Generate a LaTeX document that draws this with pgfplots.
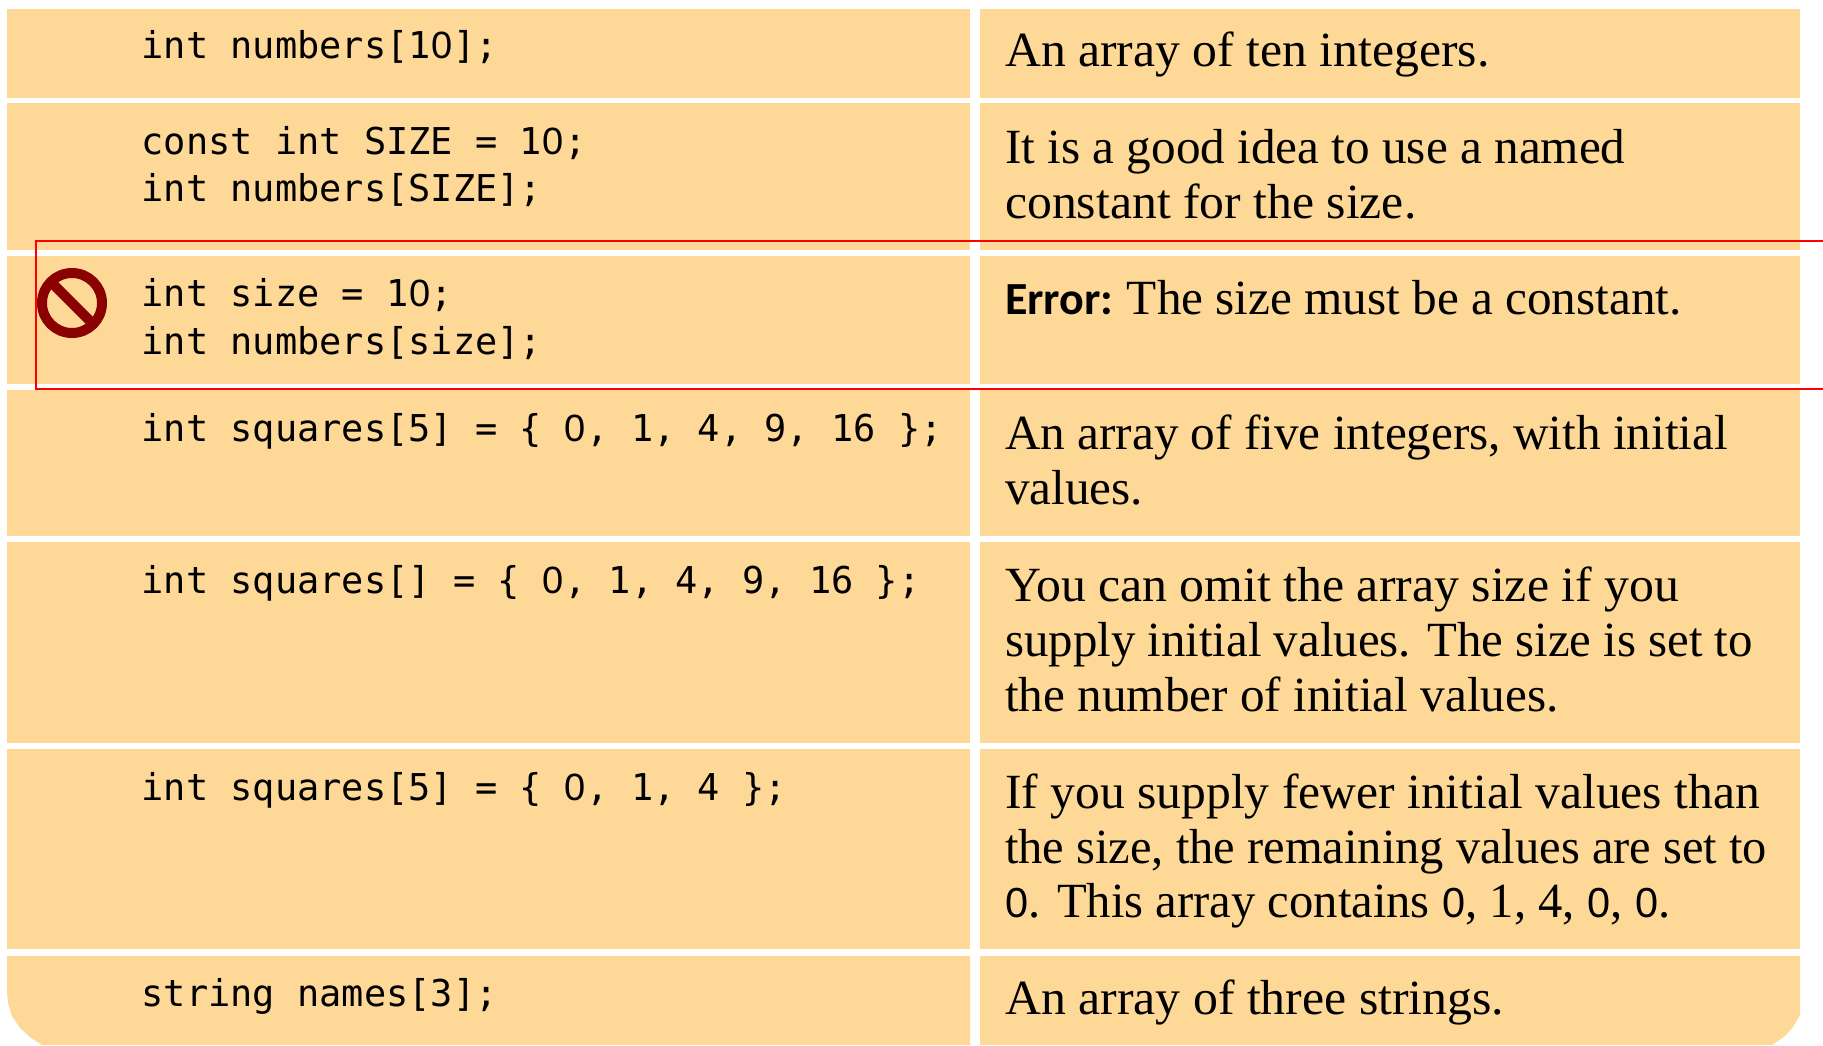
\documentclass[border=0pt]{standalone}
\usepackage{fontspec}
\usepackage{pgfplots}
\pgfplotsset{compat=1.18}
\setmainfont{Liberation Serif}
\setmonofont{DejaVu Sans Mono}
\newfontfamily\errfont{Carlito}
\newfontfamily\zerofont{Liberation Sans}
\definecolor{cell}{HTML}{FDD896}
\definecolor{stopred}{HTML}{8B0000}
\definecolor{boxred}{HTML}{FF0000}
\newcommand{\code}[2]{\node[anchor=base west,inner sep=0pt,font=\fontsize{36.95}{40}\selectfont\ttfamily] at (axis cs:141.5,#1) {#2};}
% optional argument squeezes a line to the width it has in the reference
\newcommand{\body}[3][1]{\node[anchor=base west,inner sep=0pt,font=\fontsize{49.2}{52}\selectfont] at (axis cs:1005,#2) {\scalebox{#1}[1]{#3}};}
% plain zero, the reference font has no dot in it
\newcommand{\Z}{\makebox[22.25pt][c]{\fontsize{38}{40}\selectfont\zerofont 0}}
\newcommand{\zero}{\makebox[24pt][c]{\fontsize{42}{44}\selectfont\zerofont 0}}
\begin{document}
\begin{tikzpicture}
\begin{axis}[
  scale only axis,
  width=1823pt,
  height=1045pt,
  xmin=0, xmax=1823,
  ymin=0, ymax=1045,
  y dir=reverse,
  hide axis,
  clip=true,
  cell/.style={fill=cell,draw=none,forget plot},
]
% white page, this also keeps the full picture size since hide axis drops the box
\addplot[fill=white,draw=none,forget plot] coordinates {(0,0) (1823,0) (1823,1045) (0,1045)};
% left column
\addplot[cell] coordinates {(7,9) (970,9) (970,98) (7,98)};
\addplot[cell] coordinates {(7,103) (970,103) (970,250) (7,250)};
\addplot[cell] coordinates {(7,256) (970,256) (970,384) (7,384)};
\addplot[cell] coordinates {(7,390) (970,390) (970,536) (7,536)};
\addplot[cell] coordinates {(7,542) (970,542) (970,743) (7,743)};
\addplot[cell] coordinates {(7,749) (970,749) (970,949) (7,949)};
\addplot[cell] coordinates {(7,956) (970,956) (970,1045) (42,1045) (30,1037) (20,1028) (12,1016) (8,1003) (7,990)};
% right column
\addplot[cell] coordinates {(980,9) (1800,9) (1800,98) (980,98)};
\addplot[cell] coordinates {(980,103) (1800,103) (1800,250) (980,250)};
\addplot[cell] coordinates {(980,256) (1800,256) (1800,384) (980,384)};
\addplot[cell] coordinates {(980,390) (1800,390) (1800,536) (980,536)};
\addplot[cell] coordinates {(980,542) (1800,542) (1800,743) (980,743)};
\addplot[cell] coordinates {(980,749) (1800,749) (1800,949) (980,949)};
\addplot[cell] coordinates {(980,956) (1800,956) (1800,1015) (1793,1027) (1785,1036) (1772,1045) (980,1045)};
% red box, open at the right edge
\addplot[boxred,line width=2.4pt,forget plot] coordinates {(1823,241) (36,241) (36,389) (1823,389)};
% stop sign
\addplot[only marks,mark=o,mark size=30,mark options={draw=stopred,fill=none,line width=10pt},forget plot] coordinates {(72,303)};
\addplot[stopred,line width=10pt,forget plot] coordinates {(49,280) (95,326)};
% code
\code{58.5}{int numbers[1\Z];}
\code{154.5}{const int SIZE = 1\Z;}
\code{201.5}{int numbers[SIZE];}
\code{306.5}{int size = 1\Z;}
\code{354.5}{int numbers[size];}
\code{441.5}{int squares[5] = \{ \Z, 1, 4, 9, 16 \};}
\code{593.5}{int squares[] = \{ \Z, 1, 4, 9, 16 \};}
\code{800.5}{int squares[5] = \{ \Z, 1, 4 \};}
\code{1006.5}{string names[3];}
% descriptions
\body[1.01]{66}{An array of ten integers.}
\body{163}{It is a good idea to use a named}
\body[1.01]{218}{constant for the size.}
\body{314}{{\errfont\bfseries\fontsize{46}{50}\selectfont Error:}\hspace{-3pt} The size must be a constant.}
\body{449}{An array of five integers, with initial}
\body{504}{values.}
\body[1.012]{601}{You can omit the array size if you}
\body[0.993]{656}{supply initial values. The size is set to}
\body{711}{the number of initial values.}
\body[1.008]{808}{If you supply fewer initial values than}
\body[0.985]{863}{the size, the remaining values are set to}
\body[0.988]{917}{\zero. This array contains \zero, 1, 4, \zero, \zero.}
\body[1.012]{1014}{An array of three strings.}
\end{axis}
\end{tikzpicture}
\end{document}
